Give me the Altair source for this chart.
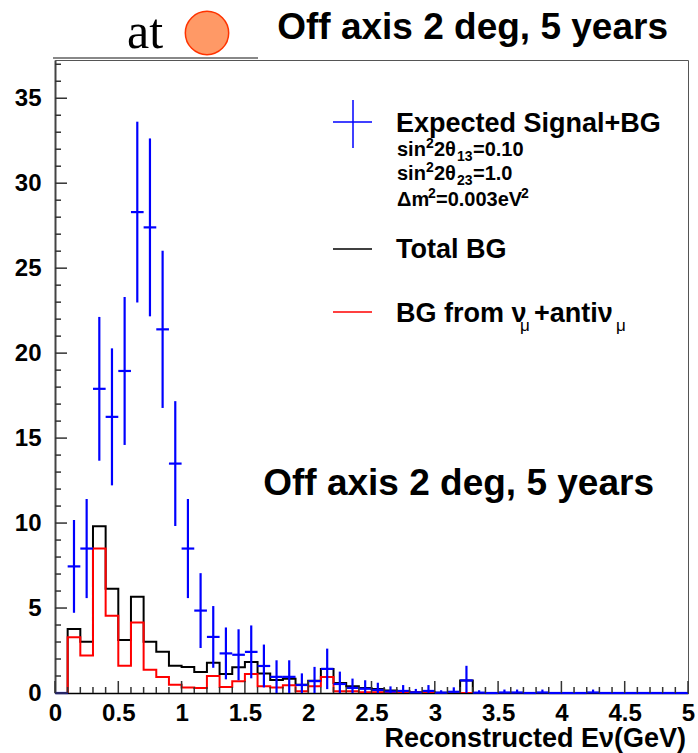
import altair as alt
import pandas as pd
import numpy as np

# ---------------- data ----------------
bin_low = [0.0, 0.1, 0.2, 0.3, 0.4, 0.5, 0.6, 0.7, 0.8, 0.9,
           1.0, 1.1, 1.2, 1.3, 1.4, 1.5, 1.6, 1.7, 1.8, 1.9,
           2.0, 2.1, 2.2, 2.3, 2.4, 2.5, 2.6, 2.7, 2.8, 2.9,
           3.0, 3.1, 3.2, 3.3, 3.4, 3.5, 3.6, 3.7, 3.8, 3.9,
           4.0, 4.1, 4.2, 4.3, 4.4, 4.5, 4.6, 4.7, 4.8, 4.9]
bin_width = 0.1

signal_bg = [0.0, 7.45, 8.5, 17.9, 16.25, 18.95, 28.3, 27.4, 21.4, 13.5,
             8.5, 4.85, 3.3, 2.33, 2.25, 2.42, 1.59, 0.95, 0.95, 0.47,
             0.7, 1.42, 0.53, 0.3, 0.25, 0.18, 0.09, 0.12, 0.04, 0.12,
             0.02, 0.07, 0.74, 0.02, 0.0, 0.03, 0.03, 0.0, 0.03, 0.0,
             0.0, 0.0, 0.03, 0.0, 0.0, 0.0, 0.0, 0.0, 0.0, 0.0]

total_bg = [0.0, 3.76, 3.02, 9.82, 6.14, 3.12, 5.67, 3.02, 2.43, 1.61,
            1.53, 1.24, 1.78, 1.12, 1.51, 1.83, 1.15, 0.77, 0.84, 0.49,
            0.72, 1.41, 0.59, 0.39, 0.29, 0.24, 0.14, 0.1, 0.05, 0.04,
            0.02, 0.02, 0.74, 0.0, 0.0, 0.0, 0.0, 0.0, 0.0, 0.0,
            0.0, 0.0, 0.0, 0.0, 0.0, 0.0, 0.0, 0.0, 0.0, 0.0]

numu_bg = [0.0, 3.28, 2.2, 8.5, 4.55, 1.61, 4.15, 1.37, 0.94, 0.49,
           0.33, 0.29, 1.0, 0.35, 0.69, 1.12, 0.39, 0.33, 0.45, 0.1,
           0.39, 0.94, 0.1, 0.1, 0.04, 0.04, 0.02, 0.05, 0.05, 0.05,
           0.0, 0.0, 0.0, 0.0, 0.0, 0.0, 0.0, 0.0, 0.0, 0.0,
           0.0, 0.0, 0.0, 0.0, 0.0, 0.0, 0.0, 0.0, 0.0, 0.0]

x_major = [0, 0.5, 1, 1.5, 2, 2.5, 3, 3.5, 4, 4.5, 5]
y_major = [0, 5, 10, 15, 20, 25, 30, 35]
x_minor_step = 0.1
y_minor_step = 1

X_MAX = 5.0
Y_MAX = 37.25

# ---------------- derived tables ----------------
blue = pd.DataFrame({"lo": bin_low, "v": signal_bg})
blue["hi"] = blue["lo"] + bin_width
blue["c"] = blue["lo"] + bin_width / 2
blue["err"] = np.sqrt(blue["v"])
blue["ylo"] = np.clip(blue["v"] - blue["err"], 0, None)
blue["yhi"] = blue["v"] + blue["err"]
blue_nz = blue[blue["v"] > 0]

def step_table(vals):
    return pd.DataFrame({"x": bin_low + [X_MAX], "y": vals + [vals[-1]]})

black_df = step_table(total_bg)
red_df = step_table(numu_bg)

x_minor = [round(i * x_minor_step, 1) for i in range(int(X_MAX / x_minor_step) + 1)]
x_minor = [v for v in x_minor if v not in x_major]
y_minor = [i for i in range(0, int(Y_MAX) + 1, y_minor_step) if i not in y_major]

W, H = 633, 633
SANS = "Liberation Sans, Arial, Helvetica, sans-serif"
SERIF = "Liberation Serif, Times New Roman, serif"

xs = alt.Scale(domain=[0, X_MAX], nice=False, zero=False)
ys = alt.Scale(domain=[0, Y_MAX], nice=False, zero=False)

x_axis = alt.Axis(values=x_major, format="~g", ticks=False, tickSize=0, grid=False,
                  labelFont=SANS, labelFontWeight="bold", labelFontSize=24,
                  labelColor="black", labelPadding=8, domainColor="black",
                  domainWidth=1.5, title=None, labelFlush=False)
y_axis = alt.Axis(values=y_major, ticks=False, tickSize=0, grid=False,
                  labelFont=SANS, labelFontWeight="bold", labelFontSize=24,
                  labelColor="black", labelPadding=14, domainColor="#444",
                  domainWidth=2, title=None)

# frame / axes carrier
base = alt.Chart(black_df).mark_line(opacity=0).encode(
    x=alt.X("x:Q", scale=xs, axis=x_axis),
    y=alt.Y("y:Q", scale=ys, axis=y_axis),
)

black_line = alt.Chart(black_df).mark_line(
    interpolate="step-after", color="black", strokeWidth=2, clip=True
).encode(x=alt.X("x:Q", scale=xs), y=alt.Y("y:Q", scale=ys))

red_line = alt.Chart(red_df).mark_line(
    interpolate="step-after", color="#ff0000", strokeWidth=2, clip=True
).encode(x=alt.X("x:Q", scale=xs), y=alt.Y("y:Q", scale=ys))

blue_h = alt.Chart(blue).mark_rule(color="#0000ff", strokeWidth=2.2).encode(
    x=alt.X("lo:Q", scale=xs), x2="hi:Q", y=alt.Y("v:Q", scale=ys))
blue_v = alt.Chart(blue_nz).mark_rule(color="#0000ff", strokeWidth=2.2).encode(
    x=alt.X("c:Q", scale=xs), y=alt.Y("ylo:Q", scale=ys), y2="yhi:Q")

# ticks drawn inside the frame
TICK = "#333"
y_maj_t = alt.Chart(pd.DataFrame({"t": y_major})).mark_rule(color=TICK, strokeWidth=1.5).encode(
    y=alt.Y("t:Q", scale=ys), x=alt.value(0), x2=alt.value(12))
y_min_t = alt.Chart(pd.DataFrame({"t": y_minor})).mark_rule(color=TICK, strokeWidth=1.5).encode(
    y=alt.Y("t:Q", scale=ys), x=alt.value(0), x2=alt.value(6))
x_maj_t = alt.Chart(pd.DataFrame({"t": x_major})).mark_rule(color=TICK, strokeWidth=1.5).encode(
    x=alt.X("t:Q", scale=xs), y=alt.value(H), y2=alt.value(H - 12))
x_min_t = alt.Chart(pd.DataFrame({"t": x_minor})).mark_rule(color=TICK, strokeWidth=1.5).encode(
    x=alt.X("t:Q", scale=xs), y=alt.value(H), y2=alt.value(H - 6))

one = pd.DataFrame({"k": [0]})

def label(txt, x, y, size, font=SANS, weight="bold", color="black", align="left",
          baseline="alphabetic"):
    return alt.Chart(one).mark_text(
        text=txt, font=font, fontSize=size, fontWeight=weight, color=color,
        align=align, baseline=baseline
    ).encode(x=alt.value(x), y=alt.value(y))

def seg(x1, x2, y1, y2, color, width):
    return alt.Chart(one).mark_rule(color=color, strokeWidth=width).encode(
        x=alt.value(x1), x2=alt.value(x2), y=alt.value(y1), y2=alt.value(y2))

# header
title = label("Off axis 2 deg, 5 years", 613, -21, 37, align="right")
at_txt = label("at", 72, -12, 50, font=SERIF, weight="normal")
sun = alt.Chart(one).mark_point(
    shape="circle", filled=True, fill="#ff9966", stroke="#ff3300", strokeWidth=1.5,
    size=1880, opacity=1
).encode(x=alt.value(152), y=alt.value(-27))
top_bar = seg(-2, 203, -2, -2, "#888", 2)

# in-plot text
inner = label("Off axis 2 deg, 5 years", 599, 435, 37, align="right")

# x-axis title
x_title = label("Reconstructed Eν(GeV)", 631, 687, 27, align="right")

# legend
FS, SS = 20, 14
leg = [
    seg(278, 317, 62, 62, "#0000ff", 1.5),
    seg(298, 298, 40, 88, "#0000ff", 1.5),
    label("Expected Signal+BG", 341, 72, 27),
    # sin^2 2theta_13 = 0.10
    label("sin", 342, 96, FS),
    label("2", 371, 88, SS),
    label("2θ", 379, 96, FS),
    label("13", 402, 101, SS),
    label("=0.10", 418, 96, FS),
    # sin^2 2theta_23 = 1.0
    label("sin", 342, 120, FS),
    label("2", 371, 112, SS),
    label("2θ", 379, 120, FS),
    label("23", 402, 125, SS),
    label("=1.0", 418, 120, FS),
    # Delta m^2 = 0.003 eV^2
    label("Δm", 342, 146, FS),
    label("2", 373, 138, SS),
    label("=0.003eV", 381, 146, FS),
    label("2", 466, 138, SS),
    # Total BG
    seg(278, 317, 189, 189, "black", 1.5),
    label("Total BG", 341, 198, 27),
    # BG from nu_mu + anti nu_mu
    seg(278, 317, 252, 252, "#ff0000", 1.5),
    label("BG from ν", 341, 262, 27),
    label("μ", 465, 271, 17, weight="normal"),
    label("+antiν", 479, 262, 27),
    label("μ", 561, 271, 17, weight="normal"),
]

chart = alt.layer(
    base, black_line, red_line, blue_h, blue_v,
    y_maj_t, y_min_t, x_maj_t, x_min_t,
    title, at_txt, sun, top_bar, inner, x_title, *leg
).properties(
    width=W, height=H,
    autosize=alt.AutoSizeParams(type="none"),
    padding={"left": 55, "top": 60, "right": 10, "bottom": 60},
    background="white",
).configure_view(stroke="#555", strokeWidth=1)

chart.save("out.html", embed_options={"renderer": "svg", "actions": False})
